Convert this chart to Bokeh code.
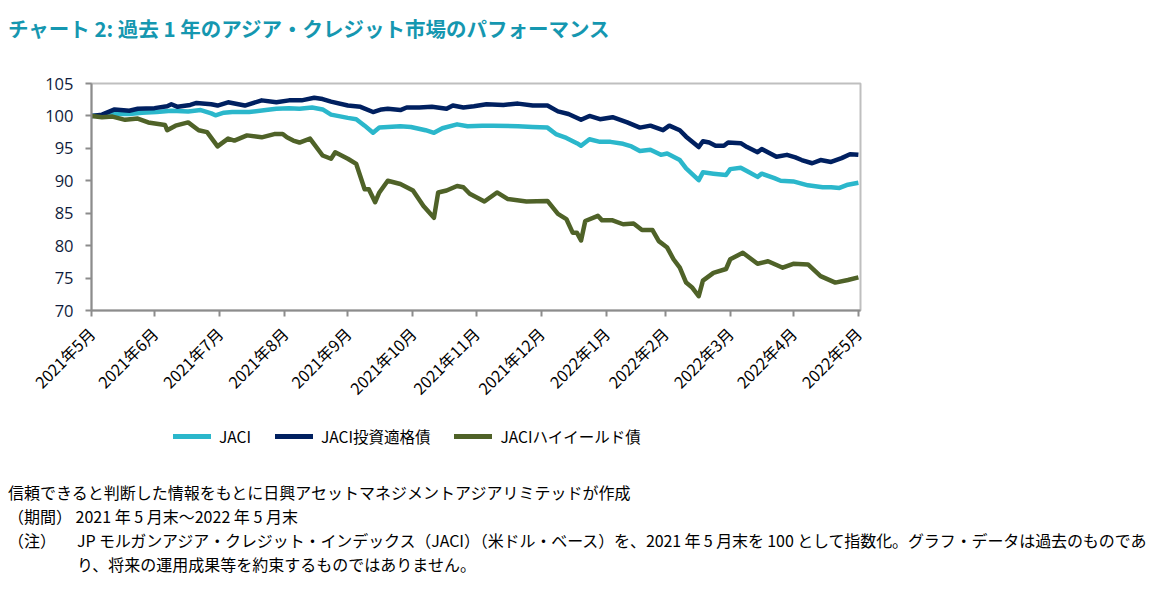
from bokeh.plotting import figure
from bokeh.models import Legend, LegendItem, FixedTicker, Range1d, Div
from bokeh.layouts import column
from bokeh.embed import file_html
from bokeh.resources import INLINE

# ---------------- data ----------------
title_text = "チャート 2: 過去 1 年のアジア・クレジット市場のパフォーマンス"
series_names = ["JACI", "JACI投資適格債", "JACIハイイールド債"]

# days since 2021-05-31 (month-end ticks)
tick_days = [0, 30, 61, 92, 122, 153, 183, 214, 245, 273, 304, 334, 365]
tick_labels = ["2021年5月", "2021年6月", "2021年7月", "2021年8月", "2021年9月",
               "2021年10月", "2021年11月", "2021年12月", "2022年1月", "2022年2月",
               "2022年3月", "2022年4月", "2022年5月"]
y_ticks = [70, 75, 80, 85, 90, 95, 100, 105]

day_jaci = [0, 6, 10, 18, 24, 31, 38, 46, 52, 57, 59, 63, 67, 75, 83, 88, 94, 99,
            105, 110, 114, 122, 126, 130, 134, 137, 147, 152, 159, 163, 167, 174,
            179, 186, 191, 203, 210, 217, 221, 226, 231, 233, 237, 242, 247, 253,
            257, 261, 266, 271, 274, 280, 283, 289, 291, 296, 302, 304, 309, 313,
            317, 319, 325, 328, 334, 341, 348, 352, 356, 360, 365]
jaci = [100.0, 100.1, 100.3, 100.3, 100.5, 100.6, 100.8, 100.7, 100.9, 100.4,
        100.1, 100.5, 100.6, 100.6, 100.9, 101.1, 101.2, 101.1, 101.3, 101.0,
        100.2, 99.7, 99.5, 98.5, 97.4, 98.2, 98.4, 98.3, 97.8, 97.4, 98.1, 98.7,
        98.4, 98.5, 98.5, 98.4, 98.3, 98.2, 97.2, 96.6, 95.8, 95.4, 96.4, 96.0,
        96.0, 95.7, 95.3, 94.6, 94.8, 94.0, 94.2, 93.2, 91.9, 90.1, 91.3, 91.1,
        90.9, 91.8, 92.0, 91.3, 90.6, 91.1, 90.4, 90.0, 89.9, 89.3, 89.0, 89.0,
        88.9, 89.4, 89.7]

day_ig = [0, 5, 11, 18, 22, 30, 36, 38, 41, 47, 50, 57, 60, 65, 73, 81, 88, 94,
          100, 106, 110, 114, 122, 128, 134, 138, 141, 147, 150, 156, 162, 169,
          172, 177, 182, 188, 196, 203, 210, 217, 222, 227, 233, 237, 242, 248,
          255, 261, 266, 272, 275, 280, 283, 289, 291, 294, 297, 301, 303, 309,
          312, 317, 319, 326, 331, 335, 338, 343, 347, 352, 357, 361, 365]
ig = [100.0, 100.2, 101.0, 100.8, 101.1, 101.2, 101.5, 101.8, 101.4, 101.7,
      102.0, 101.8, 101.6, 102.1, 101.6, 102.4, 102.1, 102.4, 102.4, 102.8,
      102.6, 102.2, 101.6, 101.4, 100.6, 101.0, 101.1, 100.9, 101.3, 101.3,
      101.4, 101.1, 101.6, 101.3, 101.5, 101.8, 101.7, 101.9, 101.6, 101.6,
      100.7, 100.3, 99.4, 100.0, 99.5, 99.8, 99.0, 98.2, 98.5, 97.8, 98.5, 97.8,
      96.8, 95.2, 96.1, 95.9, 95.4, 95.4, 95.9, 95.8, 95.2, 94.4, 94.9, 93.7,
      94.0, 93.6, 93.2, 92.7, 93.2, 92.9, 93.5, 94.1, 94.0]

day_hy = [0, 5, 10, 16, 22, 27, 35, 36, 40, 46, 51, 55, 60, 65, 68, 74, 81, 87,
          91, 93, 96, 99, 104, 110, 114, 116, 122, 126, 130, 132, 135, 137, 141,
          147, 153, 158, 163, 165, 169, 174, 177, 180, 187, 193, 198, 207, 217,
          222, 226, 229, 231, 233, 235, 241, 243, 248, 253, 258, 262, 267, 270,
          274, 277, 280, 283, 286, 289, 291, 296, 302, 304, 310, 317, 322, 329,
          334, 341, 347, 354, 360, 365]
hy = [100.0, 99.8, 99.9, 99.4, 99.6, 99.0, 98.6, 97.8, 98.5, 99.0, 97.8, 97.5,
      95.3, 96.5, 96.2, 97.0, 96.7, 97.2, 97.2, 96.7, 96.2, 95.9, 96.5, 93.9,
      93.4, 94.4, 93.4, 92.6, 88.7, 88.7, 86.7, 88.2, 90.0, 89.5, 88.5, 86.1,
      84.3, 88.2, 88.5, 89.2, 89.0, 88.0, 86.8, 88.2, 87.2, 86.8, 86.9, 84.9,
      84.1, 82.0, 82.0, 80.8, 83.8, 84.6, 83.9, 83.9, 83.3, 83.4, 82.4, 82.4,
      80.7, 79.7, 77.9, 76.6, 74.3, 73.5, 72.2, 74.6, 75.8, 76.4, 77.9, 78.9,
      77.2, 77.6, 76.6, 77.2, 77.1, 75.3, 74.3, 74.7, 75.1]

source_note = "信頼できると判断した情報をもとに日興アセットマネジメントアジアリミテッドが作成"
period_note = "（期間） 2021 年 5 月末～2022 年 5 月末"
note_head = "（注）"
note_body_1 = "JP モルガンアジア・クレジット・インデックス（JACI）（米ドル・ベース）を、2021 年 5 月末を 100 として指数化。グラフ・データは過去のものであ"
note_body_2 = "り、将来の運用成果等を約束するものではありません。"

# ---------------- style ----------------
C_JACI = "#2bb7cb"
C_IG = "#002060"
C_HY = "#4f6228"
C_TITLE = "#1597b0"
JP = "Noto Sans CJK JP"
CSS_FONT = "'Noto Sans CJK JP', sans-serif"

title_div = Div(
    text=f'<div style="padding:14px 0 0 8px; margin:0; font-family:{CSS_FONT}; '
         f'font-weight:bold; font-size:20.5px; line-height:28px; color:{C_TITLE}; white-space:nowrap;">'
         f'{title_text}</div>',
    width=1157, height=50, margin=(0, 0, 0, 0))

# ---- main chart: frame spans page x 91..860, y 83..310 ----
p = figure(width=1157, height=360, output_backend="svg", toolbar_location=None,
           x_range=Range1d(0, 366), y_range=Range1d(70, 105),
           min_border_left=91, min_border_right=297, min_border_top=33,
           min_border_bottom=100, margin=(0, 0, 0, 0))
p.background_fill_color = "white"
p.border_fill_color = "white"
p.outline_line_color = "#bfbfbf"
p.outline_line_width = 2
p.xgrid.visible = False
p.ygrid.visible = False

p.line(day_jaci, jaci, line_color=C_JACI, line_width=4.5, line_join="round")
p.line(day_ig, ig, line_color=C_IG, line_width=4.5, line_join="round")
p.line(day_hy, hy, line_color=C_HY, line_width=4.5, line_join="round")

for ax in (p.xaxis[0], p.yaxis[0]):
    ax.axis_line_color = "#8c8c8c"
    ax.axis_line_width = 2
    ax.major_tick_line_color = "#8c8c8c"
    ax.major_tick_line_width = 2
    ax.major_tick_in = 0
    ax.major_tick_out = 6
    ax.minor_tick_line_color = None

p.yaxis.ticker = FixedTicker(ticks=y_ticks)
p.yaxis.major_label_text_font = "Open Sans"
p.yaxis.major_label_text_font_size = "16.5px"
p.yaxis.major_label_text_color = "#101c3c"
p.yaxis.major_label_standoff = 12

p.xaxis.ticker = FixedTicker(ticks=tick_days)
p.xaxis.major_label_overrides = {d: lab for d, lab in zip(tick_days, tick_labels)}
p.xaxis.major_label_orientation = 0.785398
p.xaxis.major_label_text_font = JP
p.xaxis.major_label_text_font_size = "16px"
p.xaxis.major_label_text_color = "#000000"
p.xaxis.major_label_standoff = 14

# ---- legend strip: page y 410..480 (series drawn off-range; only legend swatches show) ----
lg = figure(width=1157, height=70, output_backend="svg", toolbar_location=None,
            x_range=Range1d(0, 1), y_range=Range1d(0, 1),
            x_axis_type=None, y_axis_type=None,
            min_border_left=0, min_border_right=0, min_border_top=0,
            min_border_bottom=0, margin=(0, 0, 0, 0))
lg.outline_line_color = None
lg.xgrid.visible = False
lg.ygrid.visible = False
k1 = lg.line(day_jaci, jaci, line_color=C_JACI, line_width=5, line_cap="round")
k2 = lg.line(day_ig, ig, line_color=C_IG, line_width=5, line_cap="round")
k3 = lg.line(day_hy, hy, line_color=C_HY, line_width=5, line_cap="round")
legend = Legend(items=[LegendItem(label=series_names[0], renderers=[k1]),
                       LegendItem(label=series_names[1], renderers=[k2]),
                       LegendItem(label=series_names[2], renderers=[k3])],
                orientation="horizontal", location=(82, 33))
legend.border_line_color = None
legend.background_fill_alpha = 0
legend.margin = 0
legend.padding = 0
legend.spacing = 24
legend.glyph_width = 38
legend.glyph_height = 20
legend.label_standoff = 8
legend.label_text_font = JP
legend.label_text_font_size = "15.5px"
legend.label_text_color = "#000000"
lg.add_layout(legend, "center")

line_css = "height:24px; line-height:24px; white-space:nowrap;"
footer_html = (
    f'<div style="padding:0 0 0 8px; margin:0; font-family:{CSS_FONT}; font-size:16px; color:#000;">'
    f'<div style="{line_css}">{source_note}</div>'
    f'<div style="{line_css}">{period_note}</div>'
    f'<div style="{line_css} display:flex;"><span style="width:69px; flex:none;">{note_head}</span>'
    f'<span style="letter-spacing:-0.1px;">{note_body_1}</span></div>'
    f'<div style="{line_css} padding-left:69px;">{note_body_2}</div>'
    f'</div>'
)
footer_div = Div(text=footer_html, width=1157, height=110, margin=(0, 0, 0, 0))

layout = column(title_div, p, lg, footer_div, spacing=0)
open("out.html", "w").write(file_html(layout, INLINE))
